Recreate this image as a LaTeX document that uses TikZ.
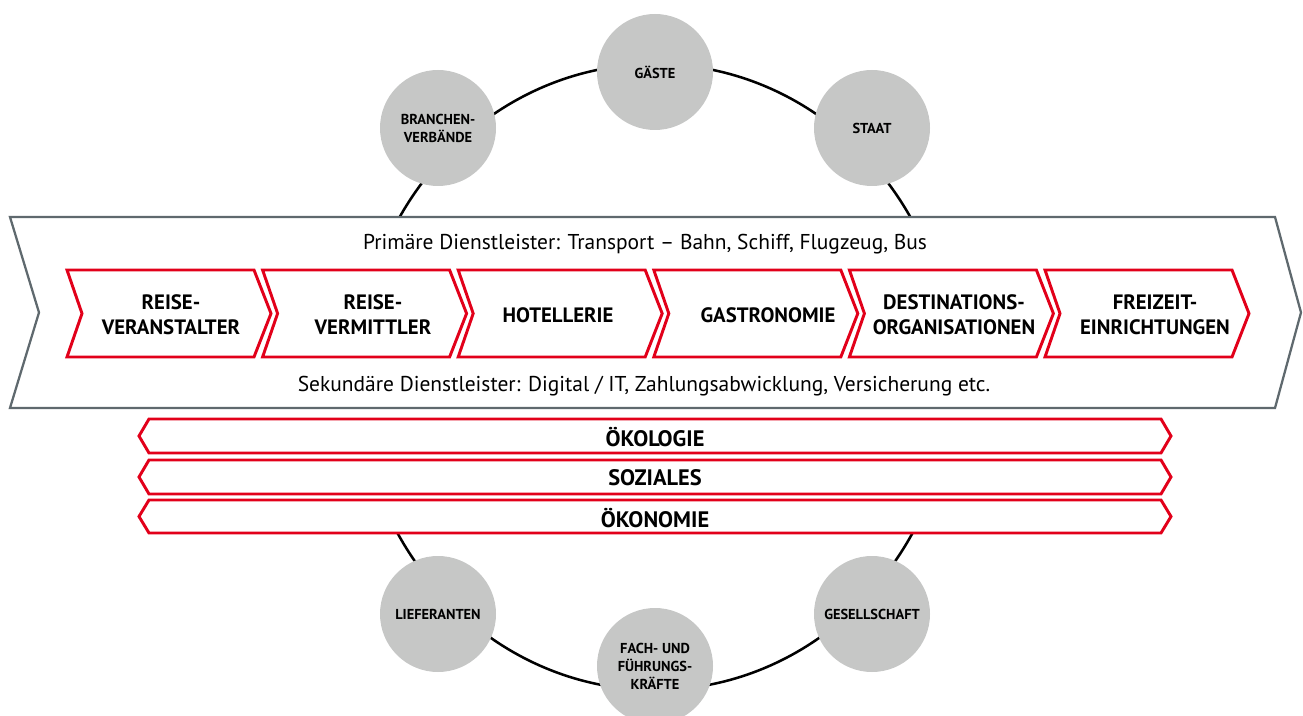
\documentclass[tikz,border=0pt]{standalone}
\usepackage{fontspec}
\setmainfont{PT Sans}
\definecolor{dbred}{RGB}{226,0,26}
\definecolor{boxgray}{RGB}{95,105,110}
\definecolor{discgray}{RGB}{198,199,198}

\begin{document}
\begin{tikzpicture}[line cap=round,line join=miter,x=0.75pt,y=-0.75pt,
  stakeholder/.style={circle, fill=discgray, minimum size=87pt, inner sep=0pt, align=center, font=\bfseries\fontsize{10.8}{13.5}\selectfont},
  chevron/.style={draw=dbred, line width=2.2pt, fill=white},
  steplabel/.style={align=center, font=\bfseries\fontsize{15.6}{18.8}\selectfont},
  bandlabel/.style={font=\bfseries\fontsize{16.8}{18}\selectfont},
  infotext/.style={font=\fontsize{16.1}{18}\selectfont}]
\useasboundingbox (0,0) rectangle (1303,716);

% --- ring of stakeholders ---
\coordinate (ring) at (655,377);
\begin{scope}
\clip (0,0) rectangle (1303,217) (0,533) rectangle (1303,716);
\draw [line width=1.9pt] (ring) ellipse [x radius=297, y radius=313];
\end{scope}

\node[stakeholder] (gaeste) at (655,72) {GÄSTE};
\node[stakeholder] (branchen) at (438,128) {BRANCHEN-\\VERBÄNDE};
\node[stakeholder] (staat) at (872,128) {STAAT};
\node[stakeholder] (lieferanten) at (438,614) {LIEFERANTEN};
\node[stakeholder] (gesellschaft) at (872,614) {GESELLSCHAFT};
\node[stakeholder] (fach) at (655,666) {FACH- UND\\FÜHRUNGS-\\KRÄFTE};

% --- value chain (grey arrow) ---
\draw [draw=boxgray, line width=1.7pt, fill=white] (10,217) -- (1275,217) -- (1301,312.5) -- (1275,408) -- (10,408) -- (39,312.5) -- cycle;
\node[infotext] (primaer) at (645,244) {Primäre Dienstleister: Transport – Bahn, Schiff, Flugzeug, Bus};
\node[infotext] (sekundaer) at (644,386) {Sekundäre Dienstleister: Digital / IT, Zahlungsabwicklung, Versicherung etc.};

% --- red chevrons ---
\draw [chevron] (67,270) -- ++(187,0) -- ++(17,43.5) -- ++(-17,43.5) -- ++(-187,0) -- ++(15,-43.5) -- cycle;
\draw [chevron] (262.6,270) -- ++(187,0) -- ++(17,43.5) -- ++(-17,43.5) -- ++(-187,0) -- ++(15,-43.5) -- cycle;
\draw [chevron] (458.2,270) -- ++(187,0) -- ++(17,43.5) -- ++(-17,43.5) -- ++(-187,0) -- ++(15,-43.5) -- cycle;
\draw [chevron] (653.8,270) -- ++(187,0) -- ++(17,43.5) -- ++(-17,43.5) -- ++(-187,0) -- ++(15,-43.5) -- cycle;
\draw [chevron] (849.4,270) -- ++(187,0) -- ++(17,43.5) -- ++(-17,43.5) -- ++(-187,0) -- ++(15,-43.5) -- cycle;
\draw [chevron] (1045,270) -- ++(187,0) -- ++(17,43.5) -- ++(-17,43.5) -- ++(-187,0) -- ++(15,-43.5) -- cycle;

\node[steplabel] (veranstalter) at (171,315) {REISE-\\VERANSTALTER};
\node[steplabel] (vermittler) at (373,315) {REISE-\\VERMITTLER};
\node[steplabel] (hotellerie) at (558,315) {HOTELLERIE};
\node[steplabel] (gastronomie) at (768,315) {GASTRONOMIE};
\node[steplabel] (destination) at (954,315) {DESTINATIONS-\\ORGANISATIONEN};
\node[steplabel] (freizeit) at (1155,315) {FREIZEIT-\\EINRICHTUNGEN};

% --- sustainability bands ---
\draw [chevron] (149,419) -- (1161,419) -- (1171,436) -- (1161,453) -- (149,453) -- (139,436) -- cycle;
\draw [chevron] (149,460) -- (1161,460) -- (1171,477) -- (1161,494) -- (149,494) -- (139,477) -- cycle;
\draw [chevron] (149,500) -- (1161,500) -- (1171,516.5) -- (1161,533) -- (149,533) -- (139,516.5) -- cycle;

\node[bandlabel] (oekologie) at (655,437) {ÖKOLOGIE};
\node[bandlabel] (soziales) at (655,478) {SOZIALES};
\node[bandlabel] (oekonomie) at (655,518) {ÖKONOMIE};

\end{tikzpicture}
\end{document}
